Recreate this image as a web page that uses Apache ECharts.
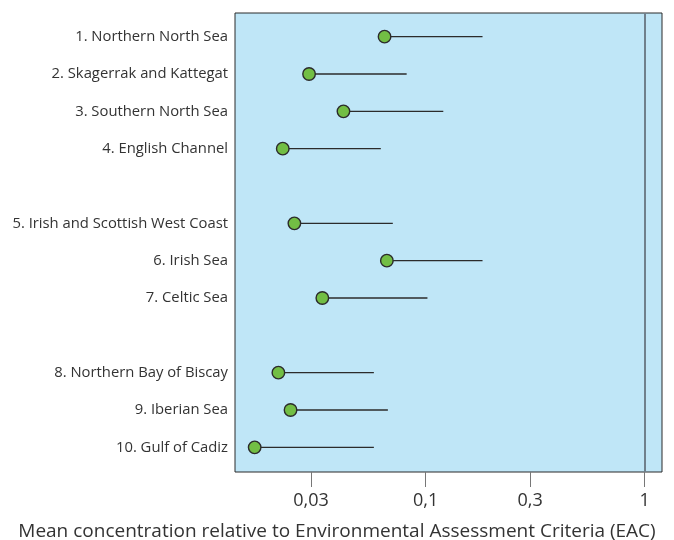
<!DOCTYPE html>
<html>
<head>
<meta charset="utf-8">
<script src="https://cdn.jsdelivr.net/npm/echarts@6/dist/echarts.min.js"></script>
<style>
  html, body { margin: 0; padding: 0; background: #fff; }
  #chart { width: 674px; height: 540px; }
</style>
</head>
<body>
<div id="chart"></div>
<script>
// Categories (blank entries are the gaps between groups)
const categories = [
  '1. Northern North Sea',
  '2. Skagerrak and Kattegat',
  '3. Southern North Sea',
  '4. English Channel',
  ' ',
  '5. Irish and Scottish West Coast',
  '6. Irish Sea',
  '7. Celtic Sea',
  '  ',
  '8. Northern Bay of Biscay',
  '9. Iberian Sea',
  '10. Gulf of Cadiz'
];
// Mean concentration relative to EAC (null = gap row)
const meanValues = [0.065, 0.0294, 0.0422, 0.0223, null, 0.0252, 0.0666, 0.0338, null, 0.0213, 0.0242, 0.0166];
// Upper end of the whisker
const upperValues = [0.182, 0.082, 0.1205, 0.0625, null, 0.0709, 0.182, 0.102, null, 0.0581, 0.0673, 0.0581];
// Axis tick values
const tickValues = [0.03, 0.1, 0.3, 1];
const referenceValue = 1;
const xMin = 0.0135, xMax = 1.2;

const meanData = [];
const rangeData = [];
categories.forEach((c, i) => {
  if (meanValues[i] != null) {
    meanData.push([meanValues[i], i]);
    rangeData.push([meanValues[i], upperValues[i], i]);
  }
});

const fmt = v => String(+Number(v).toPrecision(3)).replace('.', ',');
const FONT = 'Open Sans';

const chart = echarts.init(document.getElementById('chart'), null, { renderer: 'canvas' });
chart.setOption({
  animation: false,
  backgroundColor: '#ffffff',
  title: {
    text: 'Mean concentration relative to Environmental Assessment Criteria (EAC)',
    left: 'center',
    top: 517,
    textStyle: { fontFamily: FONT, fontSize: 19, fontWeight: 'normal', color: '#333' }
  },
  grid: [
    { left: 235, right: 12, top: 13, bottom: 68, show: true,
      backgroundColor: '#bfe6f7', borderColor: '#2a2a2a', borderWidth: 1 },
    { left: 235, right: 12, top: 18, bottom: 74 }
  ],
  xAxis: [
    { gridIndex: 0, type: 'log', min: xMin, max: xMax, logBase: 10,
      axisLine: { show: false },
      splitLine: { show: false },
      axisTick: { show: true, length: 15, customValues: tickValues,
        lineStyle: { color: '#777', width: 1 } },
      axisLabel: { customValues: tickValues, formatter: fmt, margin: 20,
        fontFamily: FONT, fontSize: 18, color: '#333' }
    },
    { gridIndex: 1, type: 'log', min: xMin, max: xMax, logBase: 10, show: false,
      splitLine: { show: false } }
  ],
  yAxis: [
    { gridIndex: 0, type: 'value', show: false, min: 0, max: 1, splitLine: { show: false } },
    { gridIndex: 1, type: 'category', data: categories, inverse: true,
      axisLine: { show: false }, axisTick: { show: false }, splitLine: { show: false },
      axisLabel: { margin: 7, fontFamily: FONT, fontSize: 14.8, color: '#333', interval: 0 } }
  ],
  series: [
    {
      type: 'scatter', xAxisIndex: 0, yAxisIndex: 0, data: [], silent: true,
      markLine: {
        silent: true, symbol: 'none', label: { show: false },
        lineStyle: { color: '#6f808c', width: 2, type: 'solid' },
        data: [{ xAxis: referenceValue }]
      }
    },
    {
      type: 'custom', xAxisIndex: 1, yAxisIndex: 1, data: rangeData, z: 2,
      renderItem: function (params, api) {
        const p1 = api.coord([api.value(0), api.value(2)]);
        const p2 = api.coord([api.value(1), api.value(2)]);
        return { type: 'line', shape: { x1: p1[0], y1: p1[1], x2: p2[0], y2: p2[1] },
          style: { stroke: '#2b2b2b', lineWidth: 1.4 } };
      },
      encode: { x: [0, 1], y: 2 }
    },
    {
      type: 'scatter', xAxisIndex: 1, yAxisIndex: 1, data: meanData, z: 3,
      symbol: 'circle', symbolSize: 12.5,
      itemStyle: { color: '#72be44', borderColor: '#2b2b2b', borderWidth: 1.4, opacity: 1 }
    }
  ]
});
</script>
</body>
</html>
